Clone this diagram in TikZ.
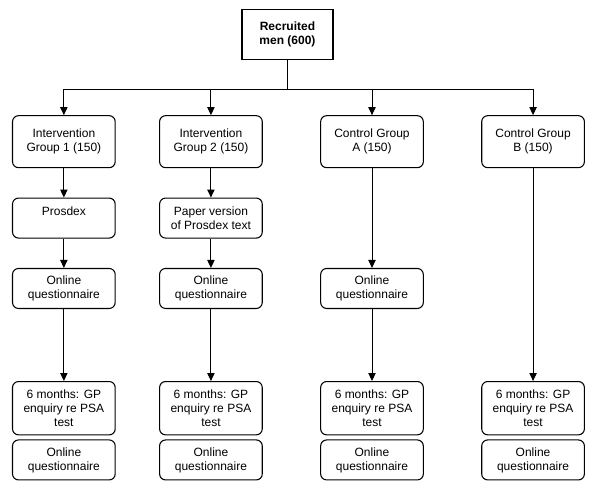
\documentclass[tikz,border=0pt]{standalone}
\usepackage{fontspec}
\setmainfont{Liberation Sans}
\usetikzlibrary{positioning,calc,arrows.meta}

\begin{document}
\begin{tikzpicture} [
    auto,
    font=\fontsize{9}{10.5}\selectfont,
    block/.style    = { rectangle, draw, rounded corners=4.5pt, line width=0.8pt,
                        align=center, minimum width=77pt, inner sep=2pt },
    tall/.style     = { block, minimum height=39pt },
    short/.style    = { block, minimum height=30pt },
    gpbox/.style    = { block, minimum height=40pt },
    head/.style     = { rectangle, draw, line width=1.1pt, align=center,
                        minimum width=68pt, minimum height=37.5pt,
                        font=\fontsize{9}{10.5}\selectfont\bfseries },
    line/.style     = { draw, line width=0.7pt, -{Triangle[length=6pt,width=5.5pt]}},
  ]


  % Define nodes in matrix
  \matrix [column sep=43pt, row sep=22pt, inner sep=0pt] (flow) {
\node[tall](int1){Intervention\\Group 1 (150)}; &[-10.5pt]
\node[tall](int2){Intervention\\Group 2 (150)}; &
\node[tall](ctrlA){Control Group\\A (150)}; &
\node[tall](ctrlB){Control Group\\B (150)}; \\
\node[short](prosdex){Prosdex\\~}; &[-10.5pt]
\node[short](paper){Paper version\\of Prosdex text}; && \\
\node[short](online1){Online\\questionnaire}; &[-10.5pt]
\node[short](online2){Online\\questionnaire}; &
\node[short](onlineA){Online\\questionnaire}; & \\[32pt]
\node[gpbox](gp1){6 months: GP\\enquiry re PSA\\test}; &[-10.5pt]
\node[gpbox](gp2){6 months: GP\\enquiry re PSA\\test}; &
\node[gpbox](gpA){6 months: GP\\enquiry re PSA\\test}; &
\node[gpbox](gpB){6 months: GP\\enquiry re PSA\\test}; \\[-19pt]
\node[short](post1){Online\\questionnaire}; &[-10.5pt]
\node[short](post2){Online\\questionnaire}; &
\node[short](postA){Online\\questionnaire}; &
\node[short](postB){Online\\questionnaire}; \\
  };

  % top box and split point
  \coordinate (split) at ($(int2.north)!0.5!(ctrlA.north)+(-3pt,19pt)$);
  \node[head, above=22pt of split] (recruited) {Recruited\\men (600)};

  % connect the nodes
		\draw [line width=0.7pt] (recruited) -- (split);
		\path [line] (split) -| (int1);
		\path [line] (split) -| (int2);
		\path [line] (split) -| (ctrlA);
		\path [line] (split) -| (ctrlB);
		\path [line] (int1) -- (prosdex);
		\path [line] (prosdex) -- (online1);
		\path [line] (online1) -- (gp1);
		\path [line] (int2) -- (paper);
		\path [line] (paper) -- (online2);
		\path [line] (online2) -- (gp2);
		\path [line] (ctrlA) -- (onlineA);
		\path [line] (onlineA) -- (gpA);
		\path [line] (ctrlB) -- (gpB);

  \pgfresetboundingbox
  \path [use as bounding box] ($(int1.west |- recruited.north)+(-9pt,6.75pt)$) rectangle +(450pt,-367.5pt);
\end{tikzpicture}
\end{document}
